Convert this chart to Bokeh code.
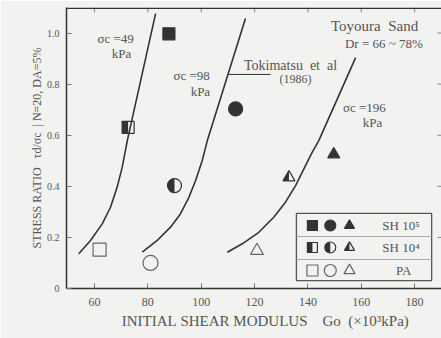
import math
from bokeh.plotting import figure
from bokeh.models import Range1d, Label, FixedTicker, Span
from bokeh.embed import file_html
from bokeh.resources import INLINE

NB = "\u00a0"

# ---------------- data ----------------
x_ticks = [60, 80, 100, 120, 140, 160, 180]
y_ticks = [0, 0.2, 0.4, 0.6, 0.8, 1.0]
y_tick_labels = ["0", "0.2", "0.4", "0.6", "0.8", "1.0"]

# Tokimatsu et al (1986) curves
curve49_x = [54.1, 58.5, 62.9, 66.0, 68.5, 70.4, 72.3, 82.9]
curve49_y = [0.136, 0.188, 0.253, 0.318, 0.397, 0.475, 0.579, 1.076]
curve98_x = [77.9, 83.5, 88.5, 92.2, 95.4, 97.9, 100.4, 102.3, 116.6]
curve98_y = [0.142, 0.188, 0.240, 0.292, 0.357, 0.423, 0.501, 0.579, 1.057]
curve196_x = [109.8, 115.4, 121.6, 127.2, 131.6, 135.4, 138.5, 141.6, 144.1, 157.9]
curve196_y = [0.142, 0.175, 0.220, 0.279, 0.338, 0.403, 0.468, 0.533, 0.579, 0.904]

# test series: order = sigma_c 49, 98, 196 (square, circle, triangle)
kinds = ["square", "circle", "triangle"]
sh5_x = [87.9, 112.9, 149.7]
sh5_y = [0.997, 0.703, 0.525]
sh4_x = [72.6, 90.0, 132.9]
sh4_y = [0.631, 0.403, 0.435]
pa_x = [61.9, 81.0, 120.9]
pa_y = [0.152, 0.100, 0.148]

legend_rows = ["SH 10\u2075", "SH 10\u2074", "PA"]

# ---------------- figure ----------------
FONT = "Liberation Serif"
TXT = "#555555"
INK = "#333333"
BG = "#f2f2f0"

X0, X1 = 49.5, 190.1
Y0, Y1 = 0.0, 1.1
FW, FH = 375, 281
PXX = (X1 - X0) / FW
PXY = (Y1 - Y0) / FH

p = figure(width=441, height=338, output_backend="svg", toolbar_location=None,
           x_range=Range1d(X0, X1), y_range=Range1d(Y0, Y1),
           min_border_left=66, min_border_right=0, min_border_top=7, min_border_bottom=50)
p.background_fill_color = BG
p.border_fill_color = BG
p.outline_line_color = None
p.grid.visible = False

for ax in (p.xaxis[0], p.yaxis[0]):
    ax.axis_line_color = INK
    ax.axis_line_width = 1.5
    ax.major_tick_in = 5
    ax.major_tick_out = 0
    ax.major_tick_line_color = "#777777"
    ax.minor_tick_line_color = None
    ax.major_label_text_font = FONT
    ax.major_label_text_color = TXT
    ax.axis_label_text_font = FONT
    ax.axis_label_text_color = TXT
    ax.axis_label_text_font_style = "normal"

p.xaxis.ticker = FixedTicker(ticks=x_ticks)
p.xaxis.major_label_text_font_size = "12px"
p.xaxis.major_label_standoff = 9
p.xaxis.axis_label = (NB * 6 + "INITIAL" + NB + "SHEAR" + NB + "MODULUS" + NB * 4
                      + "Go" + NB * 2 + "(\u00d710\u00b3kPa)")
p.xaxis.axis_label_text_font_size = "15px"
p.xaxis.axis_label_standoff = 4

p.yaxis.ticker = FixedTicker(ticks=y_ticks)
p.yaxis.major_label_overrides = {t: s for t, s in zip(y_ticks, y_tick_labels)}
p.yaxis.major_label_text_font_size = "10px"
p.yaxis.major_label_standoff = 7
p.yaxis.axis_label = ("STRESS" + NB + "RATIO" + NB * 3 + "\u03c4d/\u03c3c" + NB * 2 + "|"
                      + NB + "N=20," + NB + "DA=5%")
p.yaxis.axis_label_text_font_size = "12px"
p.yaxis.axis_label_standoff = 0

# top frame line, top and right inward ticks
p.add_layout(Span(location=Y1 - 0.8 * PXY, dimension="width", line_color=INK, line_width=1.5))
p.segment(x0=x_ticks, x1=x_ticks, y0=[Y1] * len(x_ticks), y1=[Y1 - 5 * PXY] * len(x_ticks),
          line_color="#888888", line_width=1)
p.segment(x0=[X1] * len(y_ticks), x1=[X1 - 4 * PXX] * len(y_ticks), y0=y_ticks, y1=y_ticks,
          line_color="#888888", line_width=1)

# curves
for cx, cy in ((curve49_x, curve49_y), (curve98_x, curve98_y), (curve196_x, curve196_y)):
    p.line(cx, cy, line_color=INK, line_width=1.6)

# Tokimatsu leader line
p.line([110.2, 126.0], [0.838, 0.838], line_color=INK, line_width=1.0)

# ---------------- markers ----------------
def full_marker(kind, xs, ys, size, fill):
    p.scatter(xs, ys, marker=kind, size=size,
              fill_color=INK if fill else None, line_color=INK if fill else "#666666",
              line_width=1.2)

def half_marker(kind, x, y, size):
    p.scatter([x], [y], marker=kind, size=size, fill_color=None,
              line_color=INK, line_width=1.2)
    r = size / 2.0
    if kind == "square":
        p.rect([x - r / 2 * PXX], [y], width=r, height=size,
               width_units="screen", height_units="screen",
               fill_color=INK, line_color=None)
    elif kind == "circle":
        p.wedge([x], [y], radius=r, radius_units="screen",
                start_angle=math.pi / 2, end_angle=3 * math.pi / 2,
                fill_color=INK, line_color=None)
    else:
        a = r * math.sqrt(3) / 3
        p.patch([x - r * PXX, x, x],
                [y - a * PXY, y - a * PXY, y + 2 * a * PXY],
                fill_color=INK, line_color=None)

sizes = {"square": 12, "circle": 14, "triangle": 12}
for i, k in enumerate(kinds):
    full_marker(k, [sh5_x[i]], [sh5_y[i]], sizes[k], True)
    half_marker(k, sh4_x[i], sh4_y[i], sizes[k])
    full_marker(k, [pa_x[i]], [pa_y[i]], sizes[k] + 1, False)

# ---------------- in-plot texts ----------------
def txt(x, y, s, size="12px", align="center"):
    p.add_layout(Label(x=x, y=y, text=s, text_align=align, text_baseline="middle",
                       text_font=FONT, text_font_size=size, text_color=TXT))

txt(67.9, 0.978, "\u03c3c" + NB + "=49", "13px")
txt(70.1, 0.920, "kPa", "13px")
txt(96.4, 0.834, "\u03c3c" + NB + "=98", "13px")
txt(99.7, 0.771, "kPa", "13px")
txt(161.2, 0.708, "\u03c3c" + NB + "=196", "13px")
txt(164.2, 0.650, "kPa", "13px")
txt(165.0, 1.029, "Toyoura" + NB * 2 + "Sand", "15px")
txt(168.5, 0.959, "Dr" + NB + "=" + NB + "66" + NB + "~" + NB + "78%", "13px")
txt(133.5, 0.873, "Tokimatsu" + NB * 2 + "et" + NB * 2 + "al", "14px")
txt(135.4, 0.822, "(1986)", "12px")

# ---------------- legend box ----------------
LX0, LX1 = 135.7, 186.4
LY0, LY1 = 0.031, 0.294
p.quad(left=[LX0], right=[LX1], bottom=[LY0], top=[LY1],
       fill_color=BG, line_color="#555555", line_width=1.3)
p.segment(x0=[LX0, LX0], x1=[LX1, LX1], y0=[0.2035, 0.1135], y1=[0.2035, 0.1135],
          line_color="#aaaaaa", line_width=1.0)
leg_x = [141.7, 148.4, 155.6]
leg_y = [0.2466, 0.1605, 0.0705]
leg_sizes = {"square": 10, "circle": 11, "triangle": 10}
for i, k in enumerate(kinds):
    full_marker(k, [leg_x[i]], [leg_y[0]], leg_sizes[k], True)
    half_marker(k, leg_x[i], leg_y[1], leg_sizes[k])
    full_marker(k, [leg_x[i]], [leg_y[2]], leg_sizes[k] + 1, False)
for j, s in enumerate(legend_rows):
    txt(174.9 if j < 2 else 175.9, leg_y[j], s, size="13px")

open("out.html", "w").write(file_html(p, INLINE))
